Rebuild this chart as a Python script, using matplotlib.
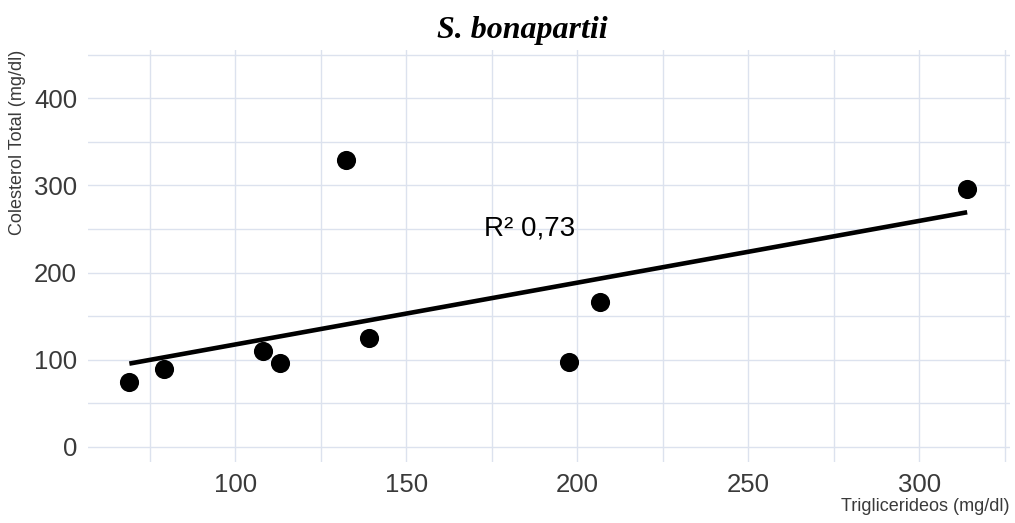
import numpy as np
import matplotlib
matplotlib.use("Agg")
import matplotlib.pyplot as plt
from matplotlib.ticker import MultipleLocator

# values
trig = [69, 79, 108, 113, 132.5, 139, 197.5, 206.5, 314]
colesterol = [74, 89, 110, 96, 329, 125, 98, 166, 296]
r2_text = "R² 0,73"
title = "S. bonapartii"
x_label = "Triglicerideos (mg/dl)"
y_label = "Colesterol Total (mg/dl)"

sans = ["Liberation Sans", "DejaVu Sans"]
grid_col = "#dce2ee"

fig = plt.figure(figsize=(10.15, 5.23), dpi=100)
ax = fig.add_axes([0.087, 0.117, 0.908, 0.787])

ax.scatter(trig, colesterol, s=190, color="black", zorder=3, linewidths=0)

# linear fit drawn over the data range
slope, intercept = np.polyfit(trig, colesterol, 1)
xs = np.array([min(trig), max(trig)])
ax.plot(xs, slope * xs + intercept, color="black", lw=3.3, zorder=2,
        solid_capstyle="butt")

ax.text(186, 251, r2_text, fontsize=20, family=sans, ha="center",
        va="center", color="black")

ax.set_xlim(57, 326.5)
ax.set_ylim(-17, 455)
ax.xaxis.set_minor_locator(MultipleLocator(25))
ax.yaxis.set_minor_locator(MultipleLocator(50))
ax.set_xticks([100, 150, 200, 250, 300])
ax.set_yticks([0, 100, 200, 300, 400])

ax.grid(which="both", color=grid_col, lw=1.0)
ax.set_axisbelow(True)
for s in ax.spines.values():
    s.set_visible(False)
ax.tick_params(which="both", length=0, labelsize=18.5, labelcolor="#3a3a3a",
               pad=8)
for lab in ax.get_xticklabels() + ax.get_yticklabels():
    lab.set_family(sans)

ax.set_xlabel(x_label, loc="right", fontsize=13, color="#3a3a3a",
              family=sans, labelpad=1)
ax.set_ylabel(y_label, loc="top", fontsize=13, color="#3a3a3a",
              family=sans, labelpad=6)

fig.text(0.515, 0.942, title, ha="center", va="center", fontsize=23,
         family="Liberation Serif", weight="bold", style="italic")

fig.savefig("out.png", dpi=100)
